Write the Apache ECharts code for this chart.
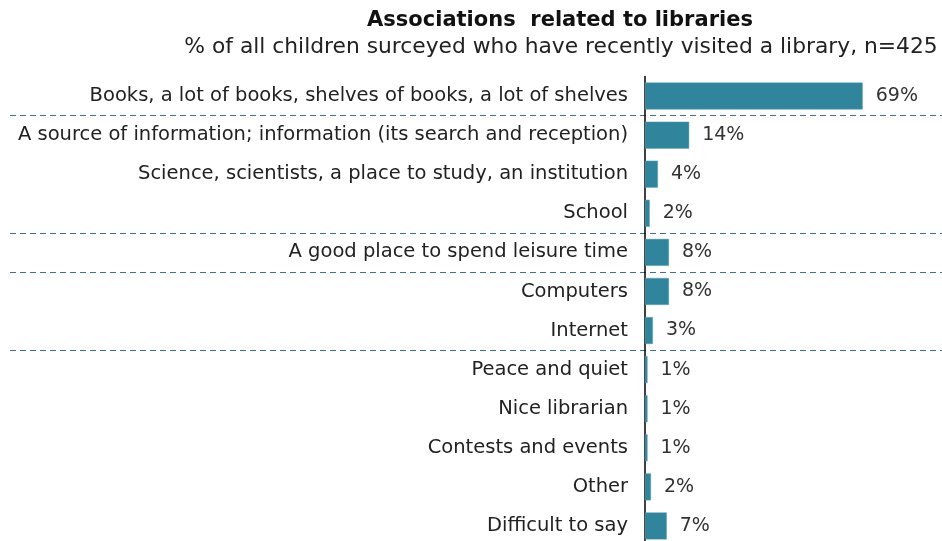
<!DOCTYPE html>
<html>
<head>
<meta charset="utf-8">
<script src="https://cdn.jsdelivr.net/npm/echarts@6/dist/echarts.min.js"></script>
<style>
  html, body { margin: 0; padding: 0; background: #fff; }
  #chart { width: 942px; height: 541px; }
</style>
</head>
<body>
<div id="chart"></div>
<script>
var categories = [
  'Books, a lot of books, shelves of books, a lot of shelves',
  'A source of information; information (its search and reception)',
  'Science, scientists, a place to study, an institution',
  'School',
  'A good place to spend leisure time',
  'Computers',
  'Internet',
  'Peace and quiet',
  'Nice librarian',
  'Contests and events',
  'Other',
  'Difficult to say'
];
// bar lengths (labels show rounded percent)
var values = [69, 14, 4.1, 1.5, 7.6, 7.6, 2.5, 0.8, 0.8, 0.8, 1.9, 6.9];
// separators drawn above these category indexes
var groupStarts = [1, 4, 5, 7];

var titleText = 'Associations  related to libraries';
var subtitleText = '% of all children surceyed who have recently visited a library, n=425';

var chart = echarts.init(document.getElementById('chart'));

var option = {
  backgroundColor: '#fff',
  animation: false,
  textStyle: { fontFamily: 'DejaVu Sans' },
  title: [
    {
      text: titleText,
      left: 555,
      top: 5,
      textAlign: 'center',
      textStyle: { fontFamily: 'DejaVu Sans', fontSize: 21, fontWeight: 'bold', color: '#111' }
    },
    {
      text: subtitleText,
      left: 556,
      top: 31,
      textAlign: 'center',
      textStyle: { fontFamily: 'DejaVu Sans', fontSize: 21.8, fontWeight: 'normal', color: '#222' }
    }
  ],
  grid: [
    { left: 645, top: 76.5, width: 284, height: 469, outerBoundsMode: 'none' },
    { left: 10, top: 76.5, right: 0, height: 469, outerBoundsMode: 'none' }
  ],
  xAxis: [
    { type: 'value', gridIndex: 0, min: 0, max: 90, show: false },
    { type: 'value', gridIndex: 1, min: 0, max: 1, show: false }
  ],
  yAxis: [
    {
      type: 'category',
      gridIndex: 0,
      data: categories,
      inverse: true,
      axisLine: { show: true, lineStyle: { color: '#000', width: 1.5 } },
      axisTick: { show: false },
      axisLabel: { color: '#222', fontSize: 19.5, margin: 17, fontFamily: 'DejaVu Sans' },
      splitLine: { show: false }
    },
    {
      type: 'category',
      gridIndex: 1,
      data: categories,
      inverse: true,
      axisLine: { show: false },
      axisTick: { show: false },
      axisLabel: { show: false },
      splitLine: {
        show: true,
        interval: function (index) { return groupStarts.indexOf(index) >= 0; },
        lineStyle: { color: '#3f7584', width: 1, type: [6, 4] }
      }
    }
  ],
  series: [
    {
      type: 'bar',
      xAxisIndex: 0,
      yAxisIndex: 0,
      data: values,
      barWidth: 27,
      itemStyle: { color: '#30849b', borderColor: '#5fa3b6', borderWidth: 0.5 },
      label: {
        show: true,
        position: 'right',
        distance: 13,
        color: '#333',
        fontSize: 19,
        fontFamily: 'DejaVu Sans',
        formatter: function (p) { return Math.round(p.value) + '%'; }
      }
    }
  ]
};

chart.setOption(option);
</script>
</body>
</html>
